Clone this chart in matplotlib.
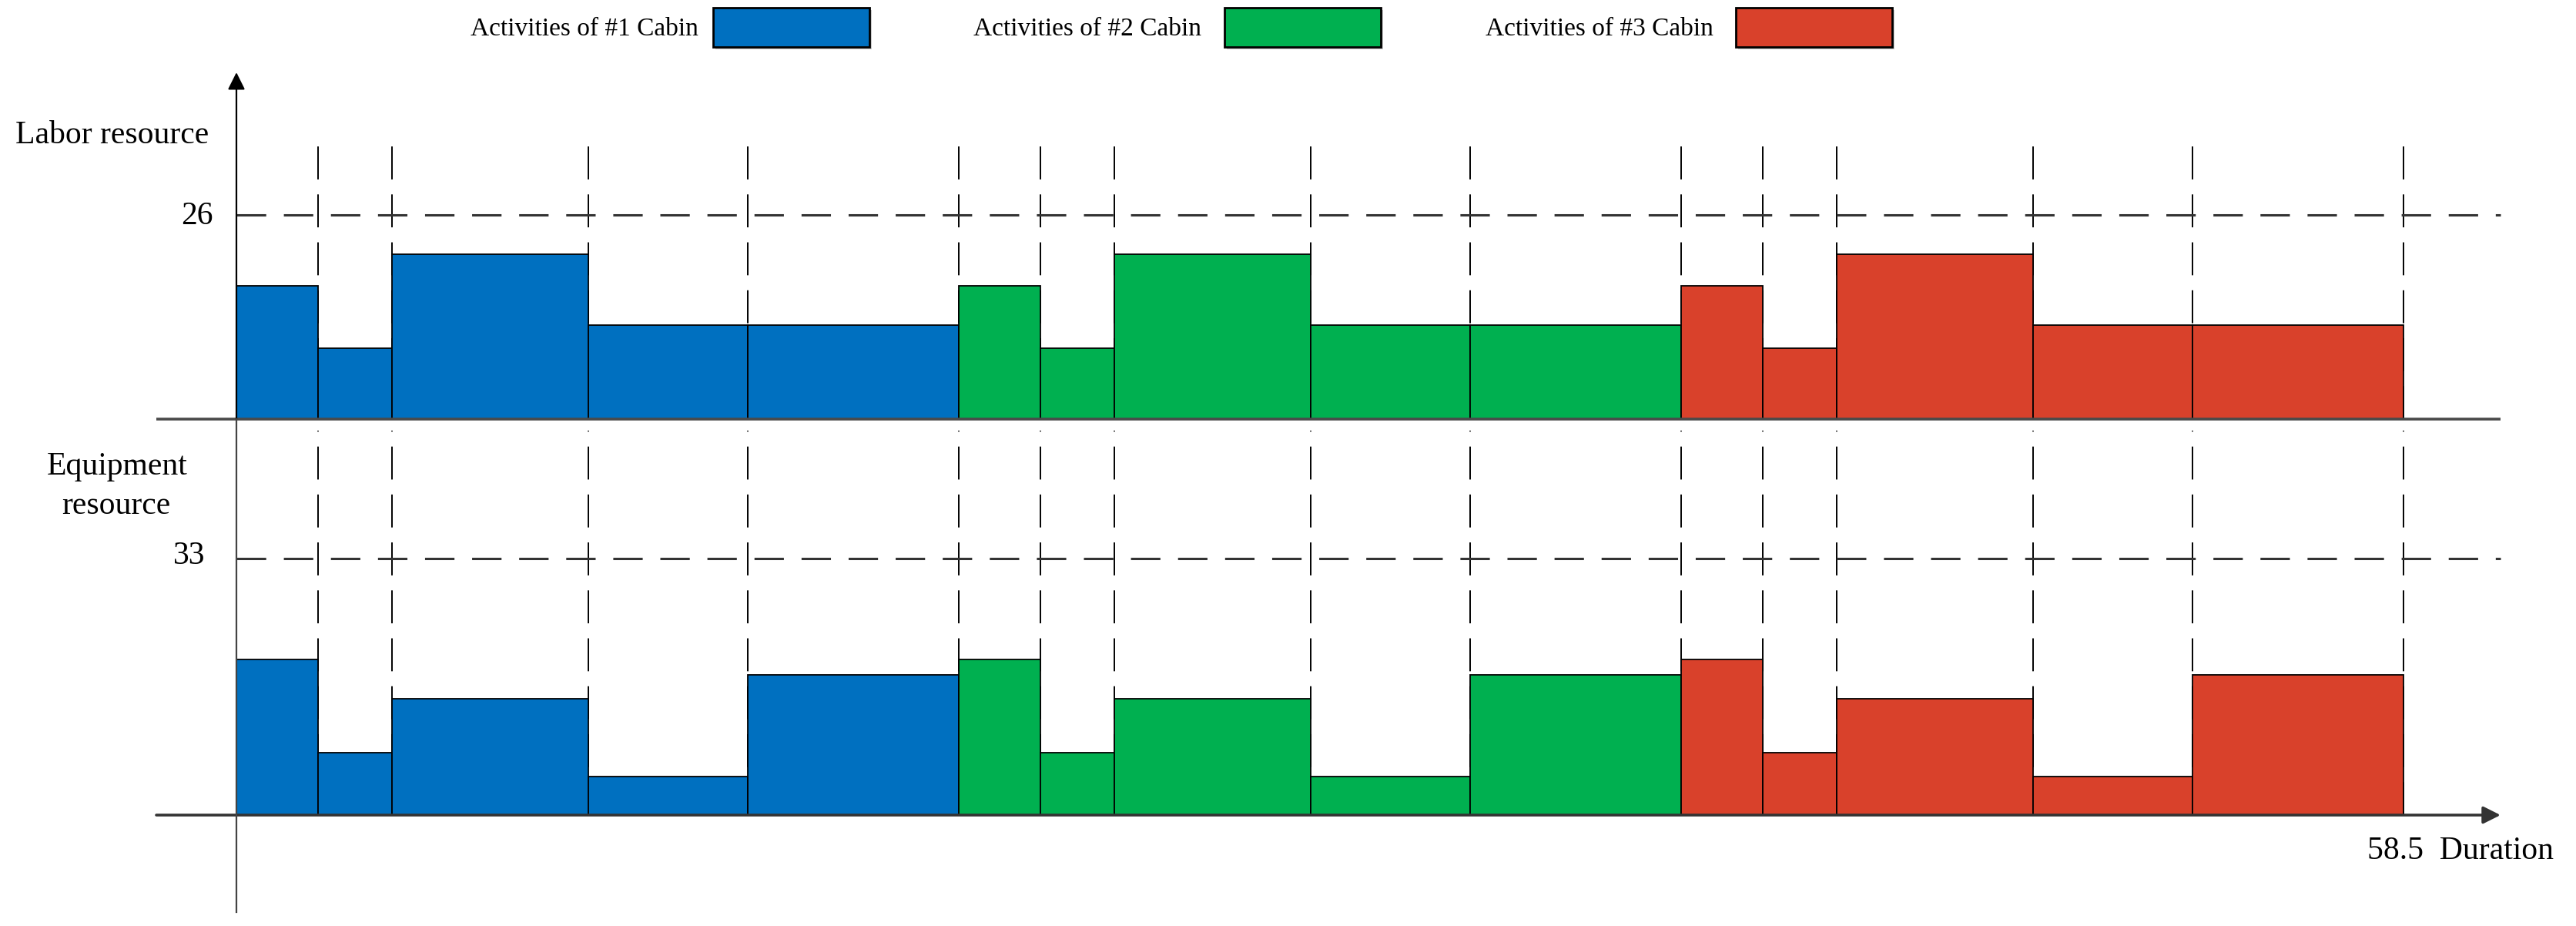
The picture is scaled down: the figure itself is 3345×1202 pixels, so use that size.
import numpy as np
import matplotlib
matplotlib.use('Agg')
import matplotlib.pyplot as plt
from matplotlib.patches import Rectangle

# data
cabins = ['Activities of #1 Cabin', 'Activities of #2 Cabin', 'Activities of #3 Cabin']
cabin_colors = ['#0070C0', '#00B050', '#D9412B']
durations = [2.2, 2.0, 5.3, 4.3, 5.7]      # same 5 activities in every cabin
labor = [17, 9, 21, 12, 12]
equipment = [20, 8, 15, 5, 18]
labor_limit = 26
equip_limit = 33
total_duration = 58.5

plt.rcParams['font.family'] = ['Liberation Serif', 'DejaVu Serif']

W, H = 3345, 1202
fig = plt.figure(figsize=(W / 100, H / 100), dpi=100)

def fx(x):
    return x / W

def fy(y):
    return 1 - y / H

# layout (pixels)
x0_px, x1_px = 307, 3121
ppx = (x1_px - x0_px) / total_duration
xlim = (-x0_px / ppx, (W - x0_px) / ppx)
x_left_line = (203 - x0_px) / ppx
x_arrow = (3247 - x0_px) / ppx

lab_base, lab_top_px, lab_lim_px = 544, 94, 279
eq_base, eq_bot_px, eq_lim_px = 1058, 1184, 725
ppl = (lab_base - lab_lim_px) / labor_limit
ppe = (eq_base - eq_lim_px) / equip_limit

ax_l = fig.add_axes([0, fy(lab_base), 1, (lab_base - lab_top_px) / H])
ax_e = fig.add_axes([0, fy(eq_bot_px), 1, (eq_bot_px - lab_base) / H])
ax_l.set_xlim(xlim)
ax_e.set_xlim(xlim)
ax_l.set_ylim(0, (lab_base - lab_top_px) / ppl)
ax_e.set_ylim(-(eq_bot_px - eq_base) / ppe, (eq_base - lab_base) / ppe)
for a in (ax_l, ax_e):
    a.axis('off')
    a.patch.set_alpha(0)

# all activities in time order
durs = np.tile(durations, len(cabins))
starts = np.concatenate([[0], np.cumsum(durs)[:-1]])
ends = starts + durs
cols = np.repeat(cabin_colors, len(durations))
lab_vals = np.tile(labor, len(cabins))
eq_vals = np.tile(equipment, len(cabins))

# vertical dashed guides at activity boundaries
vdash = dict(color='black', lw=1.4, dashes=(22, 10), zorder=1)
for xe in ends:
    ax_l.plot([xe, xe], [0, 36.5], **vdash)
    ax_e.plot([xe, xe], [0, ax_e.get_ylim()[1] - 1.5], **vdash)

# resource limits
hdash = dict(color='#333333', lw=2.2, dashes=(12.5, 7.5), zorder=1)
ax_l.plot([0, x_arrow], [labor_limit, labor_limit], **hdash)
ax_e.plot([0, x_arrow], [equip_limit, equip_limit], **hdash)

# bars
for a, vals in ((ax_l, lab_vals), (ax_e, eq_vals)):
    bars = a.bar(starts, vals, width=durs, align='edge', color=cols,
                 edgecolor='black', linewidth=1.3, zorder=3)
    for b in bars:
        b.set_clip_on(False)

# axes lines
axc = '#444444'
ax_l.plot([x_left_line, x_arrow], [0, 0], color='#4a4a4a', lw=2.6, zorder=4,
          clip_on=False, solid_capstyle='butt')
ax_e.annotate('', xy=(x_arrow, 0), xytext=(x_left_line, 0), annotation_clip=False,
              arrowprops=dict(arrowstyle='-|>', color='#333333', lw=2.6,
                              mutation_scale=34, shrinkA=0, shrinkB=0), zorder=4)
ax_e.plot([0, 0], list(ax_e.get_ylim()), color=axc, lw=1.6, zorder=4, clip_on=False)
ax_l.annotate('', xy=(0, ax_l.get_ylim()[1]), xytext=(0, 0), annotation_clip=False,
              arrowprops=dict(arrowstyle='-|>', color='black', lw=1.6,
                              mutation_scale=34, shrinkA=0, shrinkB=0), zorder=4)

# labels
fs = 30
fig.text(fx(146), fy(176), 'Labor resource', fontsize=fs, ha='center', va='center')
fig.text(fx(277), fy(281), str(labor_limit), fontsize=fs, ha='right', va='center')
fig.text(fx(152), fy(606), 'Equipment', fontsize=fs, ha='center', va='center')
fig.text(fx(151), fy(657), 'resource', fontsize=fs, ha='center', va='center')
fig.text(fx(266), fy(722), str(equip_limit), fontsize=fs, ha='right', va='center')
fig.text(fx(3074), fy(1105), f'{total_duration}  Duration', fontsize=fs, ha='left', va='center')

# legend
text_right = [907, 1560, 2225]
box_left = [926, 1590, 2254]
box_w, box_top, box_h = 203, 10, 51
for name, c, tr, bl in zip(cabins, cabin_colors, text_right, box_left):
    fig.text(fx(tr), fy(38), name, fontsize=24, ha='right', va='center')
    fig.patches.append(Rectangle((fx(bl + 3), fy(box_top + box_h + 3)), box_w / W, box_h / H,
                                 transform=fig.transFigure, facecolor='#cccccc',
                                 edgecolor='none', zorder=1))
    fig.patches.append(Rectangle((fx(bl), fy(box_top + box_h)), box_w / W, box_h / H,
                                 transform=fig.transFigure, facecolor=c,
                                 edgecolor='black', linewidth=2, zorder=2))

fig.savefig('out.png', dpi=100)
